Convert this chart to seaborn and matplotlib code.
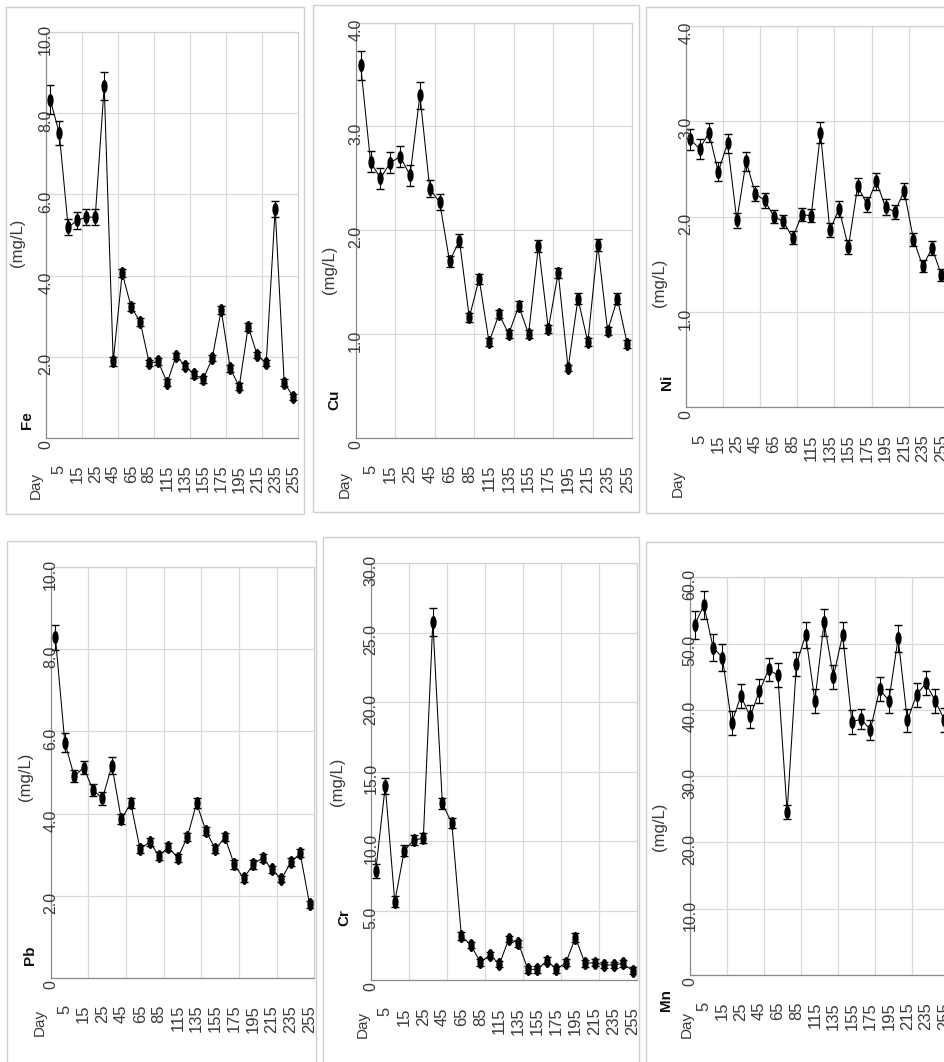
import numpy as np
import pandas as pd
import matplotlib
matplotlib.use("Agg")
import matplotlib.pyplot as plt
import seaborn as sns
from matplotlib.path import Path
from matplotlib.transforms import Affine2D, blended_transform_factory, ScaledTranslation
from matplotlib.patches import Rectangle

sns.set_theme(style="white")
plt.rcParams["font.family"] = ["Liberation Sans", "DejaVu Sans"]

W, H = 944, 1062

# ---------------- data ----------------
sample_idx = list(range(28))
x_tick_labels = ["5", "15", "25", "45", "65", "85", "115", "135",
                 "155", "175", "195", "215", "235", "255"]

fe = [8.34, 7.52, 5.19, 5.36, 5.44, 5.44, 8.67, 1.88, 4.06, 3.22, 2.86, 1.84, 1.88, 1.36,
      2.02, 1.77, 1.56, 1.44, 1.96, 3.15, 1.71, 1.26, 2.74, 2.04, 1.84, 5.64, 1.36, 1.01]
fe_err = [0.35, 0.30, 0.20, 0.20, 0.20, 0.20, 0.35, 0.10, 0.10, 0.10, 0.10, 0.08, 0.08, 0.08,
          0.08, 0.08, 0.08, 0.08, 0.08, 0.10, 0.08, 0.08, 0.10, 0.08, 0.08, 0.20, 0.08, 0.08]

cu = [3.59, 2.66, 2.50, 2.65, 2.71, 2.53, 3.30, 2.40, 2.27, 1.70, 1.90, 1.16, 1.53, 0.92,
      1.19, 1.00, 1.27, 1.00, 1.85, 1.05, 1.59, 0.67, 1.34, 0.92, 1.86, 1.03, 1.34, 0.90]
cu_err = [0.14, 0.10, 0.10, 0.10, 0.10, 0.10, 0.13, 0.08, 0.08, 0.05, 0.06, 0.04, 0.05, 0.04,
          0.04, 0.04, 0.05, 0.04, 0.06, 0.04, 0.05, 0.03, 0.05, 0.04, 0.06, 0.04, 0.05, 0.04]

ni = [2.81, 2.71, 2.88, 2.47, 2.77, 1.96, 2.58, 2.24, 2.17, 2.00, 1.95, 1.78, 2.02, 2.01,
      2.88, 1.86, 2.08, 1.68, 2.32, 2.13, 2.37, 2.10, 2.05, 2.27, 1.76, 1.48, 1.67, 1.39]
ni_err = [0.11, 0.10, 0.10, 0.10, 0.10, 0.08, 0.10, 0.08, 0.08, 0.07, 0.07, 0.07, 0.07, 0.07,
          0.11, 0.07, 0.08, 0.07, 0.09, 0.08, 0.09, 0.08, 0.07, 0.08, 0.07, 0.06, 0.07, 0.06]

pb = [8.29, 5.73, 4.91, 5.12, 4.57, 4.37, 5.17, 3.86, 4.25, 3.13, 3.31, 2.97, 3.18, 2.92,
      3.42, 4.25, 3.57, 3.13, 3.42, 2.76, 2.42, 2.76, 2.92, 2.64, 2.40, 2.81, 3.03, 1.79]
pb_err = [0.30, 0.24, 0.15, 0.15, 0.15, 0.15, 0.20, 0.12, 0.12, 0.10, 0.10, 0.10, 0.10, 0.10,
          0.10, 0.12, 0.10, 0.10, 0.10, 0.10, 0.08, 0.10, 0.10, 0.08, 0.08, 0.10, 0.10, 0.08]

cr = [7.87, 13.97, 5.64, 9.31, 10.08, 10.20, 25.80, 12.72, 11.28, 3.17, 2.52, 1.27, 1.80, 1.15,
      2.95, 2.64, 0.77, 0.77, 1.39, 0.77, 1.25, 3.05, 1.20, 1.25, 1.08, 1.08, 1.20, 0.67]
cr_err = [0.50, 0.60, 0.40, 0.40, 0.35, 0.35, 1.00, 0.40, 0.35, 0.30, 0.25, 0.25, 0.25, 0.25,
          0.25, 0.25, 0.25, 0.25, 0.25, 0.25, 0.25, 0.30, 0.25, 0.25, 0.25, 0.25, 0.25, 0.25]

mn = [52.8, 55.8, 49.4, 47.9, 38.0, 42.1, 39.0, 42.8, 46.1, 45.2, 24.6, 46.9, 51.3, 41.4,
      53.2, 45.0, 51.3, 38.2, 38.6, 37.0, 43.1, 41.4, 50.8, 38.4, 42.3, 44.0, 41.4, 38.5]
mn_err = [2.1, 2.1, 2.0, 2.0, 1.8, 1.8, 1.8, 1.8, 1.8, 1.8, 1.1, 1.8, 2.0, 1.8,
          2.0, 1.8, 2.0, 1.8, 1.5, 1.5, 1.8, 1.8, 2.0, 1.8, 1.8, 1.8, 1.8, 1.8]

panels = [
    dict(vals=fe, err=fe_err, elem="Fe", ylim=10, yt=[0, 2, 4, 6, 8, 10],
         ytl=["0", "2.0", "4.0", "6.0", "8.0", "10.0"]),
    dict(vals=cu, err=cu_err, elem="Cu", ylim=4, yt=[0, 1, 2, 3, 4],
         ytl=["0", "1.0", "2.0", "3.0", "4.0"]),
    dict(vals=ni, err=ni_err, elem="Ni", ylim=4, yt=[0, 1, 2, 3, 4],
         ytl=["0", "1.0", "2.0", "3.0", "4.0"]),
    dict(vals=pb, err=pb_err, elem="Pb", ylim=10, yt=[0, 2, 4, 6, 8, 10],
         ytl=["0", "2.0", "4.0", "6.0", "8.0", "10.0"]),
    dict(vals=cr, err=cr_err, elem="Cr", ylim=30, yt=[0, 5, 10, 15, 20, 25, 30],
         ytl=["0", "5.0", "10.0", "15.0", "20.0", "25.0", "30.0"]),
    dict(vals=mn, err=mn_err, elem="Mn", ylim=60, yt=[0, 10, 20, 30, 40, 50, 60],
         ytl=["0", "10.0", "20.0", "30.0", "40.0", "50.0", "60.0"]),
]

# ---------------- layout (pixels) ----------------
axes_px = [  # left, right, top, bottom
    (45.7, 297.7, 32.3, 437.7),
    (355.7, 632.3, 22.7, 437.7),
    (685.7, 946.0, 26.0, 407.3),
    (50.7, 314.3, 567.3, 977.7),
    (371.0, 637.3, 563.3, 980.0),
    (690.0, 949.0, 577.3, 975.0),
]
boxes_px = [
    (6, 304, 7, 514),
    (313, 639, 5, 512),
    (646, 952, 7, 513),
    (7, 316, 541, 1075),
    (323, 639, 537, 1075),
    (646, 952, 542, 1075),
]
# y-label: (unit x, unit y-center, elem x, elem y-center)
ylab_px = [
    (18, 243, 27, 420),
    (330, 270, 334, 400),
    (660, 283, 667, 382),
    (25, 777, 30, 955),
    (338, 782, 344, 918),
    (660, 827, 666, 1000),
]
xtitle_px = [(36, 485), (345, 484), (678, 483), (40, 1022), (363, 1024), (687, 1024)]

fig = plt.figure(figsize=(W / 100, H / 100), dpi=100)
fig.patch.set_facecolor("white")


def fx(x):
    return x / W


def fy(y):
    return 1 - y / H


for (l, r, t, b) in boxes_px:
    fig.patches.append(Rectangle((fx(l), fy(b)), fx(r) - fx(l), fy(t) - fy(b),
                                 transform=fig.transFigure, fill=False,
                                 edgecolor="#cfcfcf", lw=1.0))

ell = Path.unit_circle().transformed(Affine2D().scale(0.48, 1.0))
txt_col = "#3a3a3a"

for i, p in enumerate(panels):
    l, r, t, b = axes_px[i]
    ax = fig.add_axes([fx(l), fy(b), fx(r) - fx(l), fy(t) - fy(b)])
    ax.set_facecolor("white")
    df = pd.DataFrame({"idx": sample_idx, "val": p["vals"], "err": p["err"]})
    ax.errorbar(df["idx"], df["val"], yerr=df["err"], fmt="none", ecolor="black",
                elinewidth=0.8, capsize=3.2, capthick=1.0, zorder=2)
    sns.lineplot(data=df, x="idx", y="val", ax=ax, color="black", lw=0.75,
                 marker=ell, markersize=9.4, markeredgewidth=0,
                 markerfacecolor="black", zorder=3, legend=False)
    ax.set_xlim(-0.5, 27.5)
    ax.set_ylim(0, p["ylim"])
    ax.set_xlabel("")
    ax.set_ylabel("")
    ax.set_xticks(np.arange(3.5, 27.5, 4))
    ax.set_xticks(np.arange(7.5, 27.5, 8), minor=True)
    ax.set_yticks(p["yt"])
    ax.tick_params(axis="both", which="major", length=0, labelbottom=False, labelleft=False)
    ax.tick_params(axis="x", which="minor", length=7, width=0.8, color="#888888", direction="out")
    ax.grid(True, which="major", color="#d9d9d9", lw=0.9)
    ax.set_axisbelow(True)
    for s in ["top", "right"]:
        ax.spines[s].set_color("#d0d0d0")
        ax.spines[s].set_linewidth(0.9)
    for s in ["left", "bottom"]:
        ax.spines[s].set_color("#8a8a8a")
        ax.spines[s].set_linewidth(0.9)

    # y tick labels, rotated, centred on the spine
    ytr = blended_transform_factory(ax.transAxes, ax.transData) + \
        ScaledTranslation(0, -7 / 100, fig.dpi_scale_trans)
    for v, s in zip(p["yt"], p["ytl"]):
        ax.text(0, v, s, transform=ytr, rotation=90, ha="center", va="center",
                fontsize=11.5, color=txt_col, clip_on=False)

    # x tick labels, rotated, top-aligned below axis
    xtr = blended_transform_factory(ax.transData, ax.transAxes) + \
        ScaledTranslation(0, -27 / 100, fig.dpi_scale_trans)
    for k, s in enumerate(x_tick_labels):
        ax.text(sample_idx[1 + 2 * k], 0, s, transform=xtr, rotation=90,
                ha="center", va="top", fontsize=12, color=txt_col, clip_on=False)

    ux, uy, ex, ey = ylab_px[i]
    fig.text(fx(ux), fy(uy), "(mg/L)", rotation=90, ha="center", va="center",
             fontsize=12, color=txt_col)
    fig.text(fx(ex), fy(ey), p["elem"], rotation=90, ha="center", va="center",
             fontsize=11, fontweight="bold", color="#111111")
    tx, ty = xtitle_px[i]
    fig.text(fx(tx), fy(ty), "Day", rotation=90, ha="center", va="center",
             fontsize=11, color=txt_col)

fig.savefig("out.png", dpi=100, facecolor="white")
